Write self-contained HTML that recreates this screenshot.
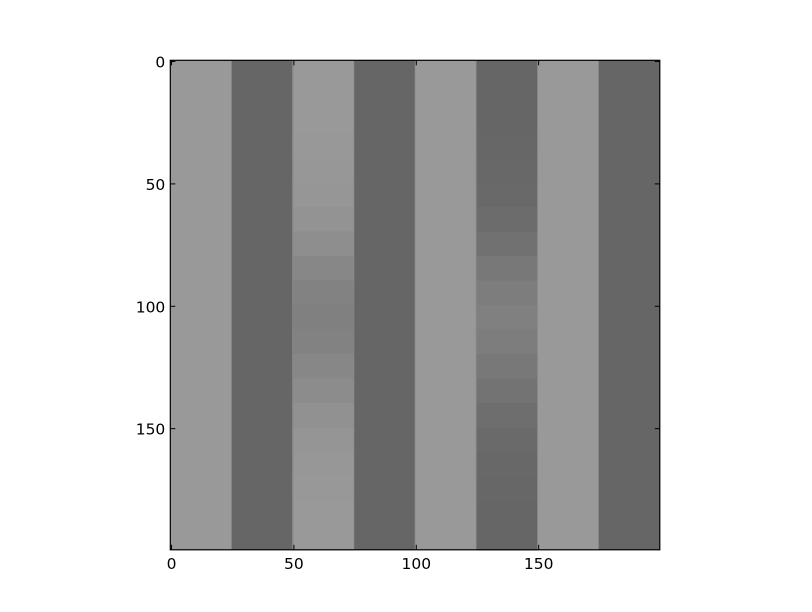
<!DOCTYPE html>
<html><head><meta charset="utf-8"><style>
html,body{margin:0;padding:0;background:#fff;}
svg{display:block;font-family:"DejaVu Sans","Liberation Sans",sans-serif;}
</style></head><body>
<svg id="chart" width="812" height="612" viewBox="0 0 812 612" xmlns="http://www.w3.org/2000/svg">
<g id="img" shape-rendering="crispEdges"></g>
<g id="axes"></g>
</svg>
<script>
// data
const stripeValues = [0.6, 0.4, 0.6, 0.4, 0.6, 0.4, 0.6, 0.4]; // gray level per 25-col stripe
const stripeWidth = 25;
const blendedStripes = [2, 5];
const blendRows = [0,10,20,30,40,50,60,70,80,90,100,110,120,130,140,150,160,170,180,190];
const blendAmount = [0,0,0,0.02,0.06,0.12,0.25,0.45,0.7,0.9,1,0.9,0.72,0.5,0.3,0.15,0.06,0.02,0,0];
const blendTarget = 0.5;
const xTicks = [0, 50, 100, 150];
const yTicks = [0, 50, 100, 150];

const NS = "http://www.w3.org/2000/svg";
const L = 170.3, T = 60.3, S = 2.4475, N = 200;
const xs = v => L + (v + 0.5) * S;
const ys = v => T + (v + 0.5) * S;
function mk(tag, attrs, parent){const e=document.createElementNS(NS,tag);for(const k in attrs)e.setAttribute(k,attrs[k]);parent.appendChild(e);return e;}
const gray = g => {const c=Math.round(g*255);return `rgb(${c},${c},${c})`;};
const img = document.getElementById('img');
stripeValues.forEach((val,i)=>{
  const x0 = xs(i*stripeWidth - 0.5), x1 = xs((i+1)*stripeWidth - 0.5);
  if(blendedStripes.includes(i)){
    blendRows.forEach((r,j)=>{
      const g = val + (blendTarget - val) * blendAmount[j];
      const rEnd = j+1 < blendRows.length ? blendRows[j+1] : N;
      const el = mk('rect',{x:x0,y:ys(r-0.5),width:x1-x0,height:ys(rEnd-0.5)-ys(r-0.5)+0.5,fill:gray(g)},img);
      
      
    });
  } else {
    const el = mk('rect',{x:x0,y:ys(-0.5),width:x1-x0,height:ys(N-0.5)-ys(-0.5),fill:gray(val)},img);
    
    
  }
  if(i>0){
    const b = mk('rect',{x:x0-0.6,y:ys(-0.5),width:1.2,height:ys(N-0.5)-ys(-0.5),fill:'#888',opacity:0.6},img);
    
    
  }
});
const ax = document.getElementById('axes');
const x0=xs(-0.5), x1=xs(N-0.5), y0=ys(-0.5), y1=ys(N-0.5);
const frame = mk('rect',{x:x0,y:y0,width:x1-x0,height:y1-y0,fill:'none',stroke:'#000','stroke-width':1.2},ax);


xTicks.forEach(t=>{
  const x=xs(t);
  mk('line',{x1:x,y1:y1,x2:x,y2:y1-5,stroke:'#000'},ax);
  mk('line',{x1:x,y1:y0,x2:x,y2:y0+5,stroke:'#000'},ax);
  const tx = mk('text',{x:x,y:y1+19,'font-size':15.5,'text-anchor':'middle'},ax);
  tx.textContent=t;
  
  
});
yTicks.forEach(t=>{
  const y=ys(t);
  mk('line',{x1:x0,y1:y,x2:x0+5,y2:y,stroke:'#000'},ax);
  mk('line',{x1:x1,y1:y,x2:x1-5,y2:y,stroke:'#000'},ax);
  const tx = mk('text',{x:x0-5,y:y+6,'font-size':15.5,'text-anchor':'end'},ax);
  tx.textContent=t;
  
  
});
</script>
</body></html>
